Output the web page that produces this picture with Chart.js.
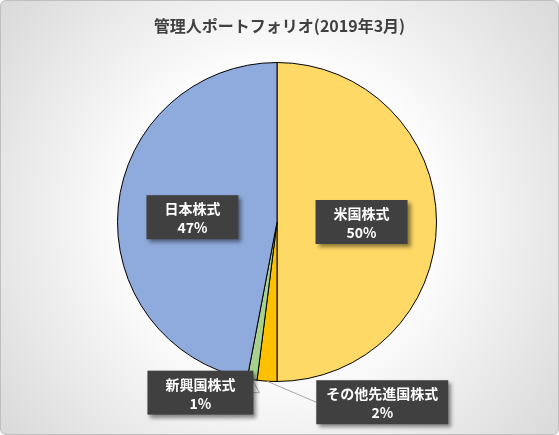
<!DOCTYPE html>
<html><head><meta charset="utf-8">
<script src="https://cdn.jsdelivr.net/npm/chart.js@4"></script>
<style>
body{margin:0;}
#wrap{width:557px;height:433px;border:1px solid #bfbfbf;border-radius:6px;overflow:hidden;
background:radial-gradient(circle at 50% 50%,#ffffff 40%,#d9d9d9 100%);}
</style></head><body>
<div id="wrap"><canvas id="c" width="557" height="433"></canvas></div>
<script>
const labels = ["米国株式", "その他先進国株式", "新興国株式", "日本株式"];
const values = [50, 2, 1, 47];
const colors = ['#FFD966', '#FFC000', '#A9D18E', '#8FAADC'];
const chartTitle = '管理人ポートフォリオ(2019年3月)';

// label box centres relative to pie centre (in units of radius)
const boxPos = [[0.53, 0.0], [0.66, 1.13], [-0.48, 1.07], [-0.53, -0.03]];

const font = '"Noto Sans CJK JP", sans-serif';

const labelPlugin = {
  id: 'boxes',
  afterDraw(chart) {
    const ctx = chart.ctx;
    const arcs = chart.getDatasetMeta(0).data;
    const cx = arcs[0].x, cy = arcs[0].y, r = arcs[0].outerRadius;
    ctx.save();
    ctx.font = 'bold 16px ' + font;
    ctx.fillStyle = '#404040';
    ctx.textAlign = 'center';
    ctx.fillText(chartTitle, chart.width / 2, 31);
    arcs.forEach((a, i) => {
      const bx = cx + boxPos[i][0] * r, by = cy + boxPos[i][1] * r;
      ctx.font = 'bold 14px ' + font;
      const w = Math.max(ctx.measureText(labels[i]).width, 30) + (i === 1 ? 20 : 36);
      const h = 44;
      if (i === 1 || i === 2) {
        const mid = (a.startAngle + a.endAngle) / 2;
        const ex = cx + Math.cos(mid) * r, ey = cy + Math.sin(mid) * r;
        ctx.strokeStyle = '#a6a6a6'; ctx.lineWidth = 1;
        ctx.beginPath(); ctx.moveTo(ex, ey);
        if (i === 1) { ctx.lineTo(bx - w / 2, by); }
        else { ctx.lineTo(bx + w / 2 + 6, by); ctx.lineTo(bx + w / 2, by); }
        ctx.stroke();
      }
      ctx.shadowColor = 'rgba(0,0,0,0.45)'; ctx.shadowOffsetX = 3; ctx.shadowOffsetY = 3; ctx.shadowBlur = 4;
      ctx.fillStyle = '#404040';
      ctx.fillRect(bx - w / 2, by - h / 2, w, h);
      ctx.shadowColor = 'transparent';
      ctx.fillStyle = '#ffffff';
      ctx.fillText(labels[i], bx, by - 3);
      ctx.fillText(values[i] + '%', bx, by + 16);
    });
    ctx.restore();
  }
};

new Chart("c", {
  type: "pie",
  data: {
    labels: labels,
    datasets: [{ data: values, backgroundColor: colors, borderColor: '#000', borderWidth: 1 }]
  },
  options: {
    responsive: false,
    animation: false,
    layout: { padding: { left: 116, right: 121, top: 61, bottom: 52 } },
    plugins: { legend: { display: false }, tooltip: { enabled: false } }
  },
  plugins: [labelPlugin]
});
</script></body></html>
